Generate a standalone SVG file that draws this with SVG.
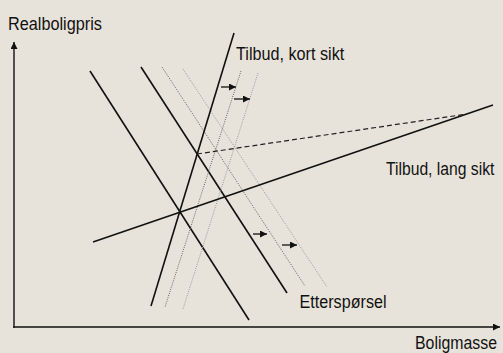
<svg xmlns="http://www.w3.org/2000/svg" width="503" height="353" viewBox="0 0 503 353">
<style>
.t{font-family:"Liberation Sans",Arial,sans-serif;font-size:18.5px;fill:#111}
.s{stroke:#111;stroke-width:1.6;fill:none}
.ax{stroke:#111;stroke-width:1.4;fill:none}
.d1{stroke:#666;stroke-width:1;stroke-dasharray:1 1.2;fill:none}
.d2{stroke:#9a9a9a;stroke-width:1;stroke-dasharray:1 1.2;fill:none}
.da{stroke:#222;stroke-width:1.2;stroke-dasharray:5 3;fill:none}
.ar{stroke:#111;stroke-width:1.3;fill:none}
</style>
<defs>
<marker id="ah" markerUnits="userSpaceOnUse" markerWidth="8" markerHeight="7" refX="7" refY="3.5" orient="auto">
<path d="M0,0 L7,3.5 L0,7 Z" fill="#111"/>
</marker>
</defs>
<rect width="503" height="353" fill="#E8E3DA"/>
<g id="axes">
<line class="ax" x1="14" y1="328" x2="14" y2="42" marker-end="url(#ah)"/>
<line class="ax" x1="13.3" y1="327" x2="500" y2="327" marker-end="url(#ah)"/>
</g>
<g id="connectors">
<line id="demand1" class="s" x1="90" y1="71" x2="249" y2="320"/>
<line id="demand2" class="s" x1="141" y1="67" x2="287" y2="293"/>
<line id="demand3" class="d1" x1="162" y1="67" x2="305" y2="286"/>
<line id="demand4" class="d2" x1="183" y1="69" x2="327" y2="287"/>
<line id="supplyShort" class="s" x1="234" y1="33" x2="151" y2="306"/>
<line id="supplyShort2" class="d1" x1="241" y1="71" x2="165" y2="307"/>
<line id="supplyShort3" class="d2" x1="258" y1="73" x2="183" y2="309"/>
<line id="supplyLong" class="s" x1="93" y1="242" x2="493" y2="105"/>
<line id="dashed" class="da" x1="197" y1="154" x2="467" y2="114"/>
<line class="ar" x1="221" y1="87" x2="236" y2="87" marker-end="url(#ah)"/>
<line class="ar" x1="234" y1="99" x2="250" y2="99" marker-end="url(#ah)"/>
<line class="ar" x1="253" y1="234" x2="267" y2="234" marker-end="url(#ah)"/>
<line class="ar" x1="282" y1="245" x2="297" y2="245" marker-end="url(#ah)"/>
</g>
<g id="label-y"><text class="t" transform="translate(8,30) scale(0.879,1)">Realboligpris</text></g>
<g id="label-short"><text class="t" transform="translate(236,60) scale(0.876,1)">Tilbud, kort sikt</text></g>
<g id="label-long"><text class="t" transform="translate(386,175) scale(0.848,1)">Tilbud, lang sikt</text></g>
<g id="label-demand"><text class="t" transform="translate(299.5,307.5) scale(0.873,1)">Etterspørsel</text></g>
<g id="label-x"><text class="t" transform="translate(415,348.5) scale(0.858,1)">Boligmasse</text></g>
</svg>
